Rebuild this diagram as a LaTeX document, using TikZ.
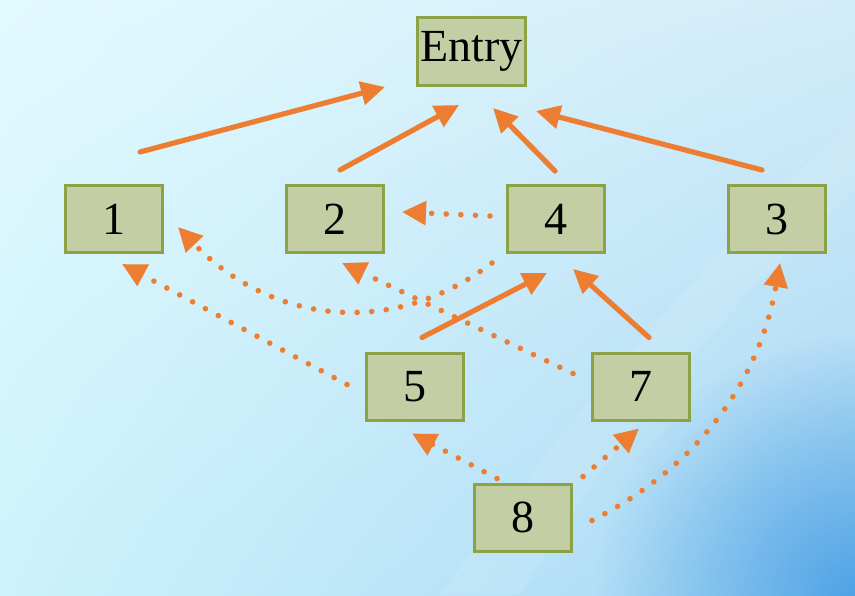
\documentclass[tikz,border=0pt]{standalone}
\usepackage{fontspec}
\setmainfont{Liberation Serif}
\usepackage{xcolor}
\usetikzlibrary{arrows.meta, positioning, shadings, fadings}

\definecolor{boxfill}{HTML}{C3CEA5}
\definecolor{boxline}{HTML}{8CA247}
\definecolor{arroworange}{HTML}{ED7D31}
\definecolor{bgul}{HTML}{E2FAFE}
\definecolor{bgur}{HTML}{D2ECF9}
\definecolor{bgll}{HTML}{CDF2FC}
\definecolor{bglr}{HTML}{A6D6F3}
\definecolor{bgdeep}{HTML}{4FA3E6}
\tikzfading[name=cornerfade, inner color=transparent!0, outer color=transparent!100]

\begin{document}
\begin{tikzpicture}[
x=0.5pt, y=-0.5pt,
box/.style={draw=boxline,
fill=boxfill,
line width=1.5pt,
rectangle,
minimum width=48.5pt,
minimum height=33.5pt,
inner sep=0pt,
font=\fontsize{23}{27}\selectfont},
arrow/.style={-{Triangle[length=12pt, width=11.5pt]}, line width=2.6pt, line cap=round, draw=arroworange},
dotarrow/.style={arrow, line width=2.8pt, dash pattern=on 0pt off 7.3pt}
]

% background
\useasboundingbox (0,0) rectangle (855,595);
\begin{scope}
\clip (0,0) rectangle (855,595);
\shade[upper left=bgul, upper right=bgur, lower left=bgll, lower right=bglr] (0,0) rectangle (855,595);
\fill[bgdeep, path fading=cornerfade] (855,595) circle (260);
\fill[white, opacity=0.1] (440,595) .. controls (560,430) and (700,260) .. (855,120)
-- (855,190) .. controls (720,310) and (600,460) .. (520,595) -- cycle;
\end{scope}

\node[box, minimum width=54pt, minimum height=34pt] (entry) at (471.5,51.5) {Entry};
\node[box] (n1) at (114,219) {1};
\node[box, right=60.5pt of n1] (n2) {2};
\node[box, right=60.5pt of n2] (n4) {4};
\node[box, right=60.5pt of n4] (n3) {3};
\node[box] (n5) at (415,386.5) {5};
\node[box] (n7) at (641,386.5) {7};
\node[box] (n8) at (523,517.5) {8};

% to entry
\draw[arrow] ([shift={(26,-32)}]n1.north) -- ([shift={(-31,0)}]entry.south west);
\draw[arrow] ([shift={(5,-14)}]n2.north) -- ([shift={(-12.5,18)}]entry.south);
\draw[arrow] ([shift={(-1,-13)}]n4.north) -- ([shift={(21.5,21)}]entry.south);
\draw[arrow] ([shift={(-15,-14)}]n3.north) -- ([shift={(9,24)}]entry.south east);
\draw[arrow] ([shift={(7,-14)}]n5.north) -- ([shift={(-9,19)}]n4.south);
\draw[arrow] ([shift={(8,-14)}]n7.north) -- ([shift={(17,15)}]n4.south);

% dotted
\draw[dotarrow] ([shift={(-16,-3)}]n4.west) -- ([shift={(17,-7)}]n2.east);
\draw[dotarrow] ([shift={(-14,9)}]n4.south west) .. controls +(-103,78) and +(90,94) .. ([shift={(14,8)}]n1.east);
\draw[dotarrow] ([shift={(-18,-13)}]n7.west) -- ([shift={(7,9)}]n2.south);
\draw[dotarrow] ([shift={(-18,-2)}]n5.west) -- ([shift={(8,10)}]n1.south);
\draw[dotarrow] ([shift={(-26,-4)}]n8.north) -- ([shift={(-3,12)}]n5.south);
\draw[dotarrow] ([shift={(10,-6)}]n8.north east) -- ([shift={(-2,7)}]n7.south);
\draw[dotarrow] ([shift={(19,3)}]n8.east) .. controls +(116,-59) and +(-19,108) .. ([shift={(3,9)}]n3.south);

\end{tikzpicture}
\end{document}
